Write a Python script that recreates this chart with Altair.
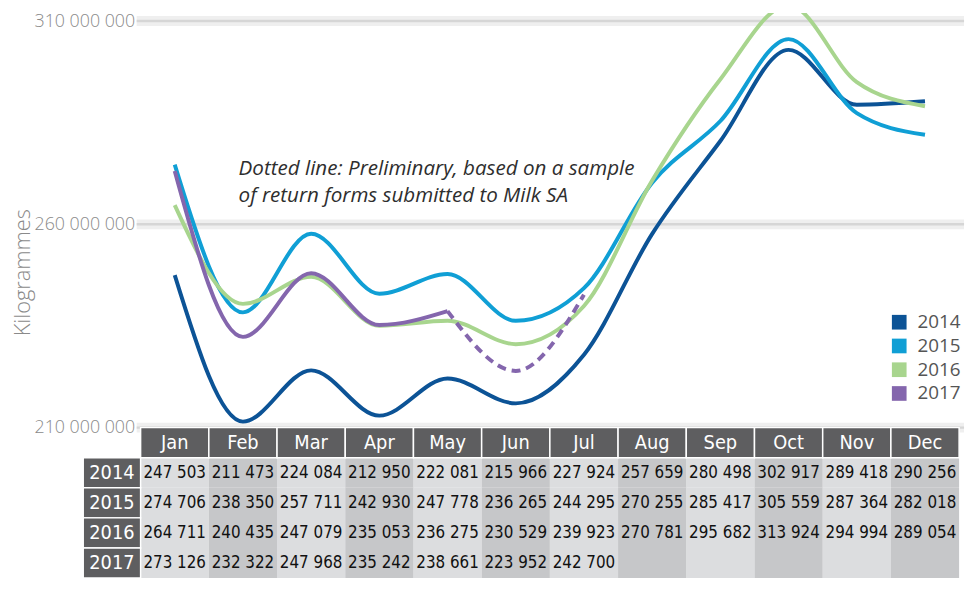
import altair as alt
import pandas as pd

# ---------------- data (values in thousand kg) ----------------
MONTHS = ["Jan", "Feb", "Mar", "Apr", "May", "Jun", "Jul", "Aug", "Sep", "Oct", "Nov", "Dec"]
YEARS = ["2014", "2015", "2016", "2017"]
V2014 = [247503, 211473, 224084, 212950, 222081, 215966, 227924, 257659, 280498, 302917, 289418, 290256]
V2015 = [274706, 238350, 257711, 242930, 247778, 236265, 244295, 270255, 285417, 305559, 287364, 282018]
V2016 = [264711, 240435, 247079, 235053, 236275, 230529, 239923, 270781, 295682, 313924, 294994, 289054]
V2017 = [273126, 232322, 247968, 235242, 238661, 223952, 242700]
PRELIM_2017 = ["May", "Jun", "Jul"]          # dotted (preliminary) part of 2017
COLORS = ["#0c5396", "#109fd5", "#a8d58e", "#8466ad"]
Y_TICKS = [210000000, 260000000, 310000000]
Y_TITLE = "Kilogrammes"
NOTE = "Dotted line: Preliminary, based on a sample\nof return forms submitted to Milk SA"

SERIES = {"2014": V2014, "2015": V2015, "2016": V2016, "2017": V2017}

# ---------------- tables built from the arrays ----------------
rows = []
for yr, vals in SERIES.items():
    for i, v in enumerate(vals):
        m = MONTHS[i]
        if yr == "2017":
            if m in PRELIM_2017:
                rows.append(dict(year=yr, month=m, kg=v * 1000, seg="dash"))
            if m not in PRELIM_2017 or m == PRELIM_2017[0]:
                rows.append(dict(year=yr, month=m, kg=v * 1000, seg="solid"))
        else:
            rows.append(dict(year=yr, month=m, kg=v * 1000, seg="solid"))
lines_df = pd.DataFrame(rows)

cells = []
for yr, vals in SERIES.items():
    for i, m in enumerate(MONTHS):
        lab = f"{vals[i]:,}".replace(",", " ") if i < len(vals) else ""
        cells.append(dict(row=yr, col=m, idx=i, label=lab))
cells_df = pd.DataFrame(cells)
hdr_df = pd.DataFrame({"row": ["hdr"] * len(MONTHS), "col": MONTHS})
yr_df = pd.DataFrame({"row": YEARS})

W = 827
H = 419
TH = 152
NARROW = "'DejaVu Sans Condensed', 'Liberation Sans', sans-serif"
LIGHT = "'Open Sans', 'Noto Sans', sans-serif"

# ---------------- top: line chart ----------------
X = alt.X("month:N", scale=alt.Scale(domain=MONTHS, type="point", padding=0.5), axis=None)
AX = alt.Axis(
    values=Y_TICKS,
    labelExpr="replace(format(datum.value, ','), /,/g, ' ')",
    grid=False, domain=False, ticks=False, tickSize=0,
    labelPadding=6, labelFont=LIGHT, labelFontSize=18, labelFontWeight=300,
    labelColor="#8a8a8a",
    title=Y_TITLE, titleFont=LIGHT, titleFontSize=22, titleFontWeight=300,
    titleColor="#8a8a8a", titleX=-112, titleY=262, titleBaseline="alphabetic",
    titleAngle=270,
)
Y = alt.Y("kg:Q", scale=alt.Scale(domain=[210000000, 312000000], zero=False, nice=False), axis=AX)
CS = alt.Scale(domain=YEARS, range=COLORS)

grid_df = pd.DataFrame({"kg": Y_TICKS})
grid_soft = alt.Chart(grid_df).mark_rule(color="#efefef", strokeWidth=10).encode(
    y=Y, x=alt.value(-4), x2=alt.value(W + 5))
grid_core = alt.Chart(grid_df).mark_rule(color="#d6d6d6", strokeWidth=2.5).encode(
    y=Y, x=alt.value(-4), x2=alt.value(W + 5))

# invisible squares that only carry the legend
legend_src = alt.Chart(lines_df[lines_df.seg == "solid"]).mark_square(
    opacity=0, size=1, clip=True
).encode(
    x=X, y=Y,
    color=alt.Color("year:N", scale=CS, legend=alt.Legend(
        title=None, orient="none", legendX=757, legendY=303, padding=0,
        symbolType="square", symbolSize=220, symbolOpacity=1, symbolStrokeWidth=0,
        labelFont=LIGHT, labelFontSize=19, labelColor="#555555", labelOffset=9,
        rowPadding=4,
    )),
)

solid = alt.Chart(lines_df[lines_df.seg == "solid"]).mark_line(
    interpolate="monotone", strokeWidth=4, clip=True
).encode(x=X, y=Y, color=alt.Color("year:N", scale=CS, legend=None))
dashed = alt.Chart(lines_df[lines_df.seg == "dash"]).mark_line(
    interpolate="monotone", strokeWidth=4, strokeDash=[9, 6], clip=True
).encode(x=X, y=Y, color=alt.Color("year:N", scale=CS, legend=None))

note = alt.Chart(pd.DataFrame({"t": [NOTE]})).mark_text(
    align="left", baseline="middle", font=LIGHT, fontStyle="italic", fontSize=20.8,
    color="#2e2e2e", lineBreak="\n", lineHeight=27,
).encode(text="t:N", x=alt.value(99), y=alt.value(158))

top = alt.layer(legend_src, grid_soft, grid_core, solid, dashed, note).properties(width=W, height=H)

# ---------------- bottom: data table ----------------
TX = alt.X("col:N", scale=alt.Scale(domain=MONTHS, paddingInner=0, paddingOuter=0), axis=None)
TY = alt.Y("row:N", scale=alt.Scale(domain=["hdr"] + YEARS, paddingInner=0, paddingOuter=0), axis=None)

cell_a = alt.Chart(cells_df).transform_filter("datum.idx % 2 == 0").mark_rect(
    color="#dcdddf").encode(x=TX, y=TY)
cell_b = alt.Chart(cells_df).transform_filter("datum.idx % 2 == 1").mark_rect(
    color="#c6c7c9").encode(x=TX, y=TY)
cell_txt = alt.Chart(cells_df).mark_text(
    font=NARROW, fontSize=17, color="#111111", baseline="middle").encode(x=TX, y=TY, text="label:N")
hdr_rect = alt.Chart(hdr_df).mark_rect(color="#5e5e60", stroke="white", strokeWidth=1.5).encode(x=TX, y=TY)
hdr_txt = alt.Chart(hdr_df).mark_text(
    font=NARROW, fontSize=20, color="white", baseline="middle").encode(x=TX, y=TY, text="col:N")
yr_rect = alt.Chart(yr_df).mark_rect(color="#5e5e60", stroke="white", strokeWidth=1.5).encode(
    y=TY, x=alt.value(-58), x2=alt.value(0))
yr_txt = alt.Chart(yr_df).mark_text(
    font=NARROW, fontSize=20, color="white", baseline="middle").encode(
    y=TY, x=alt.value(-29), text="row:N")

table = alt.layer(cell_a, cell_b, hdr_rect, yr_rect, cell_txt, hdr_txt, yr_txt).properties(width=W, height=TH)

chart = alt.vconcat(top, table, spacing=0, bounds="flush").properties(
    padding={"left": 4, "top": 1, "right": 0, "bottom": 0}
).configure_view(stroke=None)

chart.save("out.html", embed_options={"renderer": "svg", "actions": False})
